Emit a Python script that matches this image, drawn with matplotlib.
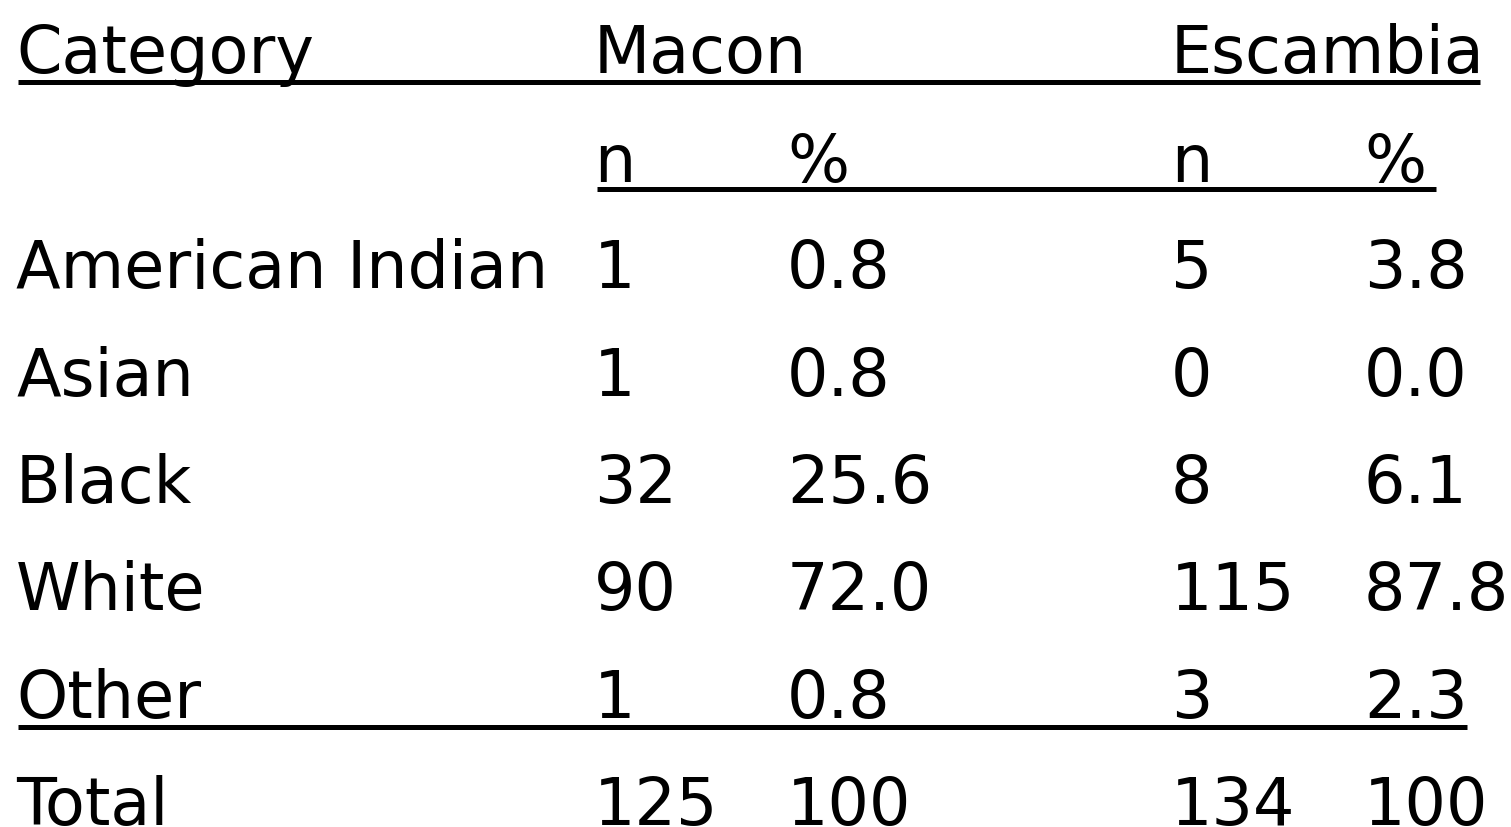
import matplotlib
matplotlib.use("Agg")
import matplotlib.pyplot as plt

# ---- data ----
header = ["Category", "Macon", "Escambia"]
subheader = ["n", "%", "n", "%"]
categories = ["American Indian", "Asian", "Black", "White", "Other", "Total"]
macon_n = ["1", "1", "32", "90", "1", "125"]
macon_pct = ["0.8", "0.8", "25.6", "72.0", "0.8", "100"]
escambia_n = ["5", "0", "8", "115", "3", "134"]
escambia_pct = ["3.8", "0.0", "6.1", "87.8", "2.3", "100"]

# ---- layout (pixel coordinates) ----
W, H = 1511, 828
fig = plt.figure(figsize=(W / 100, H / 100), dpi=100)
ax = fig.add_axes([0, 0, 1, 1])
ax.set_xlim(0, W)
ax.set_ylim(H, 0)
ax.axis("off")

col_x = [16, 594, 787, 1171, 1364]
baselines = [73, 182, 288, 396, 503, 610, 718, 825]
fs = 47
font = dict(family="DejaVu Sans", fontsize=fs, color="black", va="baseline", ha="left")

# header row
ax.text(col_x[0], baselines[0], header[0], **font)
ax.text(col_x[1], baselines[0], header[1], **font)
ax.text(col_x[3], baselines[0], header[2], **font)

# sub header
for j, s in enumerate(subheader):
    ax.text(col_x[j + 1], baselines[1], s, **font)

# body rows
for i, cat in enumerate(categories):
    y = baselines[i + 2]
    for j, val in enumerate([cat, macon_n[i], macon_pct[i], escambia_n[i], escambia_pct[i]]):
        ax.text(col_x[j], y, val, **font)

# underlines
lw = 3.6
ax.plot([18, 1480], [83, 83], color="black", lw=lw, solid_capstyle="butt")
ax.plot([597, 1436], [190, 190], color="black", lw=lw, solid_capstyle="butt")
ax.plot([18, 1467], [728, 728], color="black", lw=lw, solid_capstyle="butt")

fig.savefig("out.png", dpi=100, facecolor="white")
